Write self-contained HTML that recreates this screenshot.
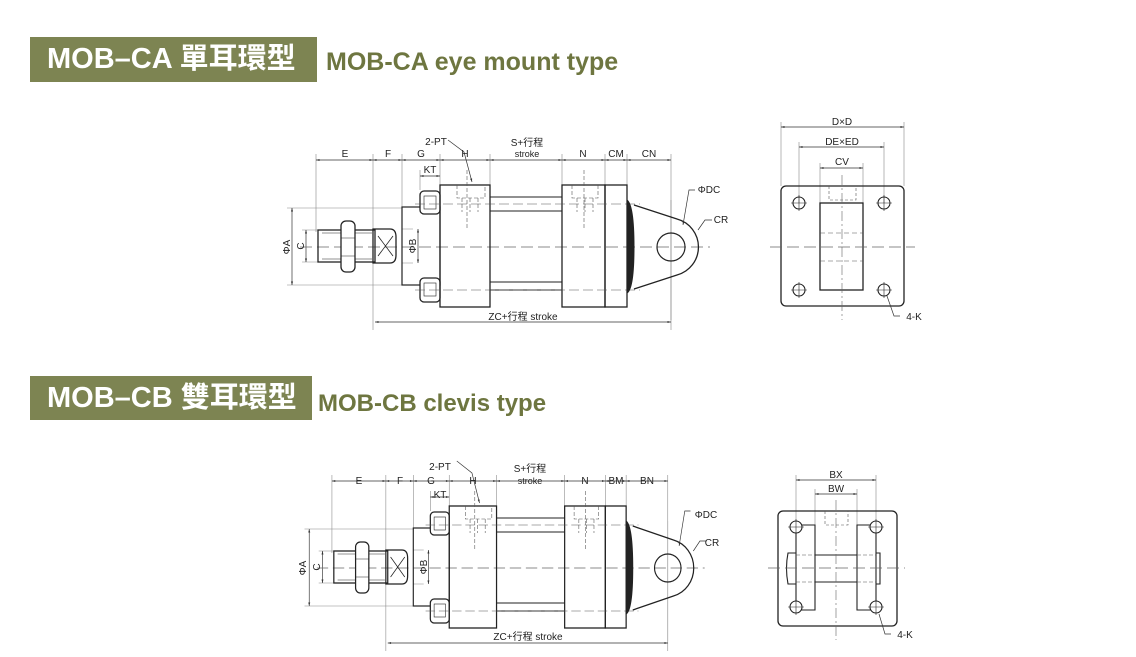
<!DOCTYPE html>
<html><head><meta charset="utf-8"><style>
body{margin:0;background:#fff;width:1136px;height:657px;overflow:hidden;position:relative;font-family:"Liberation Sans","Noto Sans CJK TC",sans-serif}
.hb{position:absolute;background:#7d8452;color:#fff;font-weight:bold;font-size:29px;line-height:45px;padding-left:17px;box-sizing:border-box;white-space:nowrap}
.ht{position:absolute;color:#6e7640;font-weight:bold;white-space:nowrap}
svg{position:absolute;left:0;top:0}
</style></head><body>
<div class="hb" style="left:30px;top:37px;width:287px;height:45px">MOB–CA 單耳環型</div>
<div class="ht" style="left:326px;top:48px;font-size:25px">MOB-CA eye mount type</div>
<div class="hb" style="left:30px;top:376px;width:282px;height:44px">MOB–CB 雙耳環型</div>
<div class="ht" style="left:318px;top:390px;font-size:24px">MOB-CB clevis type</div>
<svg width="1136" height="657" viewBox="0 0 1136 657">
<defs>
<marker id="a" viewBox="0 0 10 10" refX="10" refY="5" markerWidth="7" markerHeight="5" orient="auto-start-reverse"><path d="M0,2L10,5L0,8z" fill="#333"/></marker>
<g id="cyl" stroke="#222" fill="none" stroke-width="1">
 <g stroke="#888" stroke-width="0.6">
  <path d="M316,154V232M373,154V330M402,154V208M440,154V185M490,154V185M562,154V185M605,154V185M627,154V185M671,154V330M420,170V190M440,170V185"/>
  <path d="M287,208H402M287,285H402M302,230H318M302,262H318M413,229H402M413,263H402"/>
 </g>
 <g stroke="#333" stroke-width="0.7" marker-start="url(#a)" marker-end="url(#a)">
  <path d="M316,160H373"/><path d="M373,160H402"/><path d="M402,160H440"/><path d="M440,160H490"/><path d="M490,160H562"/><path d="M562,160H605"/><path d="M605,160H627"/><path d="M627,160H671"/>
  <path d="M420,176H440"/><path d="M375,322H671"/>
  <path d="M292,208V285"/><path d="M306,230V262"/><path d="M418,229V263"/>
 </g>
 <path d="M448,140L464,152L472,182" stroke="#333" stroke-width="0.7" marker-end="url(#a)"/>
 <path d="M300,247H710" stroke="#666" stroke-width="0.7" stroke-dasharray="12,5"/>
 <path d="M671,200V320" stroke="#888" stroke-width="0.6"/>
 <rect x="318" y="230" width="57" height="32" stroke-width="1.3"/>
 <path d="M322,233H372M322,259H372" stroke-width="0.5"/>
 <rect x="341" y="221" width="14" height="51" rx="5" fill="#fff" stroke-width="1.3"/>
 <path d="M341,238H355M341,256H355" stroke-width="0.6"/>
 <path d="M373,229H390Q396,229 396,237V255Q396,263 390,263H373Z" stroke-width="1.3"/>
 <path d="M378,236L393,256M393,236L378,256" stroke-width="0.8"/>
 <rect x="402" y="207" width="38" height="78" stroke-width="1.2"/>
 <rect x="420" y="191" width="20" height="23" rx="4" fill="#fff" stroke-width="1.3"/>
 <rect x="424" y="196" width="12" height="13" stroke-width="0.6"/>
 <rect x="420" y="278" width="20" height="24" rx="4" fill="#fff" stroke-width="1.3"/>
 <rect x="424" y="283" width="12" height="13" stroke-width="0.6"/>
 <rect x="440" y="185" width="50" height="122" stroke-width="1.3"/>
 <rect x="562" y="185" width="43" height="122" stroke-width="1.3"/>
 <rect x="605" y="185" width="22" height="122" stroke-width="1.3"/>
 <path d="M490,197H562M490,211H562M490,282H562M490,290H562" stroke-width="1.1"/>
 <path d="M415,204H640M415,290H640" stroke="#555" stroke-width="0.6" stroke-dasharray="10,4"/>
 <path d="M457,185V198H485V185M462,198V212M470,198V212M478,198V212M467,170V230" stroke="#555" stroke-width="0.6" stroke-dasharray="4,2"/>
 <path d="M572,185V198H598V185M577,198V212M585,198V212M593,198V212M584,170V230" stroke="#555" stroke-width="0.6" stroke-dasharray="4,2"/>
 <path d="M627,200Q634,205 634,247Q634,289 627,293Z" fill="#222"/>
 <path d="M634,205L677,219A29,29 0 0 1 677,275L634,289" stroke-width="1.3"/>
 <circle cx="671" cy="247" r="14" stroke-width="1.2"/>
 <path d="M695,190H689L683,225" stroke="#333" stroke-width="0.7" marker-end="url(#a)"/>
 <path d="M712,220H705L698,230" stroke="#333" stroke-width="0.7"/>
</g>
</defs>
<use href="#cyl"/>
<use href="#cyl" transform="matrix(0.946,0,0,1,33,321)"/>
<g font-size="10" fill="#222" text-anchor="middle" font-family="Liberation Sans,Noto Sans CJK TC,sans-serif">
 <text x="345" y="157">E</text><text x="388" y="157">F</text><text x="421" y="157">G</text><text x="465" y="157">H</text>
 <text x="527" y="146">S+行程</text><text x="527" y="157" font-size="9">stroke</text>
 <text x="583" y="157">N</text><text x="616" y="157">CM</text><text x="649" y="157">CN</text>
 <text x="436" y="145">2-PT</text><text x="430" y="173">KT</text>
 <text x="523" y="320">ZC+行程 stroke</text>
 <text x="709" y="193">ΦDC</text><text x="721" y="223">CR</text>
 <text transform="translate(290,247) rotate(-90)">ΦA</text>
 <text transform="translate(304,246) rotate(-90)">C</text>
 <text transform="translate(416,246) rotate(-90)">ΦB</text>
 <text x="359" y="484">E</text><text x="400" y="484">F</text><text x="431" y="484">G</text><text x="473" y="484">H</text>
 <text x="530" y="472">S+行程</text><text x="530" y="484" font-size="9">stroke</text>
 <text x="585" y="484">N</text><text x="616" y="484">BM</text><text x="647" y="484">BN</text>
 <text x="440" y="470">2-PT</text><text x="440" y="498">KT</text>
 <text x="528" y="640">ZC+行程 stroke</text>
 <text x="706" y="518">ΦDC</text><text x="712" y="546">CR</text>
 <text transform="translate(306,568) rotate(-90)">ΦA</text>
 <text transform="translate(320,567) rotate(-90)">C</text>
 <text transform="translate(427,567) rotate(-90)">ΦB</text>
 <text x="842" y="125">D×D</text><text x="842" y="145">DE×ED</text><text x="842" y="165">CV</text><text x="914" y="320">4-K</text>
 <text x="836" y="478">BX</text><text x="836" y="492">BW</text><text x="905" y="638">4-K</text>
</g>
<g stroke="#222" fill="none">
 <g stroke="#888" stroke-width="0.6"><path d="M781,122V186M904,122V186M799,142V203M884,142V203M820,163V203M863,163V203"/></g>
 <g stroke="#333" stroke-width="0.7" marker-start="url(#a)" marker-end="url(#a)"><path d="M781,127H904"/><path d="M799,147H884"/><path d="M820,168H863"/></g>
 <rect x="781" y="186" width="123" height="120" rx="5" stroke-width="1.3"/>
 <rect x="820" y="203" width="43" height="87" stroke-width="1.3"/>
 <path d="M820,233H863M820,261H863" stroke="#555" stroke-width="0.6" stroke-dasharray="5,3"/>
 <path d="M829,186V200H856V186" stroke="#555" stroke-width="0.6" stroke-dasharray="3,2"/>
 <path d="M770,247H915" stroke="#666" stroke-width="0.7" stroke-dasharray="12,5"/>
 <path d="M842,175V320" stroke="#666" stroke-width="0.6" stroke-dasharray="10,3,2,3"/>
 <g stroke-width="1.1"><circle cx="799" cy="203" r="6"/><circle cx="884" cy="203" r="6"/><circle cx="799" cy="290" r="6"/><circle cx="884" cy="290" r="6"/></g>
 <path d="M791,203H807M799,195V211M876,203H892M884,195V211M791,290H807M799,282V298M876,290H892M884,282V298" stroke-width="0.6"/>
 <path d="M900,316H894L887,296" stroke="#333" stroke-width="0.7"/>
</g>
<g stroke="#222" fill="none">
 <g stroke="#888" stroke-width="0.6"><path d="M796,475V527M876,475V527M815,489V525M857,489V525"/></g>
 <g stroke="#333" stroke-width="0.7" marker-start="url(#a)" marker-end="url(#a)"><path d="M796,480H876"/><path d="M815,494H857"/></g>
 <rect x="778" y="511" width="119" height="115" rx="5" stroke-width="1.3"/>
 <path d="M796,525H815V610H796ZM857,525H876V610H857Z" stroke-width="1.1" fill="#fff"/>
 <path d="M815,555H857M815,582H857" stroke-width="1.1"/>
 <path d="M796,555H815M796,582H815M857,555H876M857,582H876" stroke="#555" stroke-width="0.6" stroke-dasharray="4,2"/>
 <path d="M796,553H788Q785,568 788,584H796M876,553H880V584H876" stroke-width="1.1"/>
 <path d="M825,511V525H848V511" stroke="#555" stroke-width="0.6" stroke-dasharray="3,2"/>
 <path d="M768,568H905" stroke="#666" stroke-width="0.7" stroke-dasharray="12,5"/>
 <path d="M836,500V640" stroke="#666" stroke-width="0.6" stroke-dasharray="10,3,2,3"/>
 <g stroke-width="1.1" fill="#fff"><circle cx="796" cy="527" r="6"/><circle cx="876" cy="527" r="6"/><circle cx="796" cy="607" r="6"/><circle cx="876" cy="607" r="6"/></g>
 <path d="M788,527H804M796,519V535M868,527H884M876,519V535M788,607H804M796,599V615M868,607H884M876,599V615" stroke-width="0.6"/>
 <path d="M891,634H885L879,614" stroke="#333" stroke-width="0.7"/>
</g>
</svg>
</body></html>
